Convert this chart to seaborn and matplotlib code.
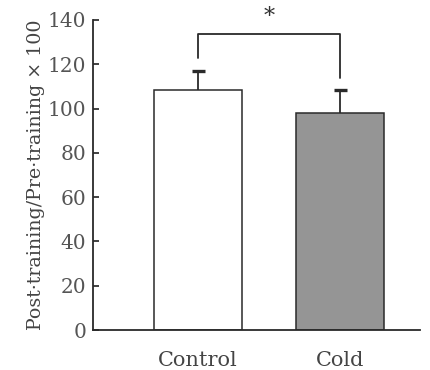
import matplotlib
matplotlib.use("Agg")
import matplotlib.pyplot as plt
import numpy as np
import pandas as pd
import seaborn as sns

groups = ["Control", "Cold"]
means = [108.5, 98.0]
errors = [8.5, 10.5]
bar_colors = ["white", "#959595"]

sns.set_theme(style="ticks")
plt.rcParams["font.family"] = ["DejaVu Serif"]

df = pd.DataFrame({"group": groups, "value": means})

fig = plt.figure(figsize=(4.31, 3.7), dpi=100)
ax = fig.add_axes([0.216, 0.108, 0.758, 0.838])

sns.barplot(data=df, x="group", y="value", hue="group", palette=bar_colors,
            width=0.62, edgecolor="#2a2a2a", linewidth=1.1, errorbar=None,
            legend=False, ax=ax)

# one-sided (upper) error bars
x = np.arange(len(groups))
tops = np.array(means) + np.array(errors)
ax.vlines(x, means, tops, color="#2a2a2a", lw=1.3)
ax.hlines(tops, x - 0.045, x + 0.045, color="#2a2a2a", lw=2.4)

# significance bracket
ax.plot([0, 0, 1, 1], [123, 133.7, 133.7, 114], color="#2a2a2a", lw=1.3,
        clip_on=False)
ax.text(0.5, 136.5, "*", ha="center", va="bottom", fontsize=16,
        color="#333333", clip_on=False)

ax.set_ylim(0, 140)
ax.set_xlim(-0.74, 1.56)
ax.set_yticks(np.arange(0, 141, 20))
ax.set_xlabel("")
ax.set_ylabel("Post\u00b7training/Pre\u00b7training \u00d7 100", fontsize=13.7,
              color="#444444", labelpad=2)
ax.tick_params(axis="y", direction="in", length=4, labelsize=14.5,
               colors="#2a2a2a", labelcolor="#555555", pad=5)
ax.tick_params(axis="x", length=0, labelsize=15, labelcolor="#444444",
               pad=15)
for s in ["top", "right"]:
    ax.spines[s].set_visible(False)
for s in ["left", "bottom"]:
    ax.spines[s].set_color("#2a2a2a")
    ax.spines[s].set_linewidth(1.3)

fig.savefig("out.png", dpi=100)
